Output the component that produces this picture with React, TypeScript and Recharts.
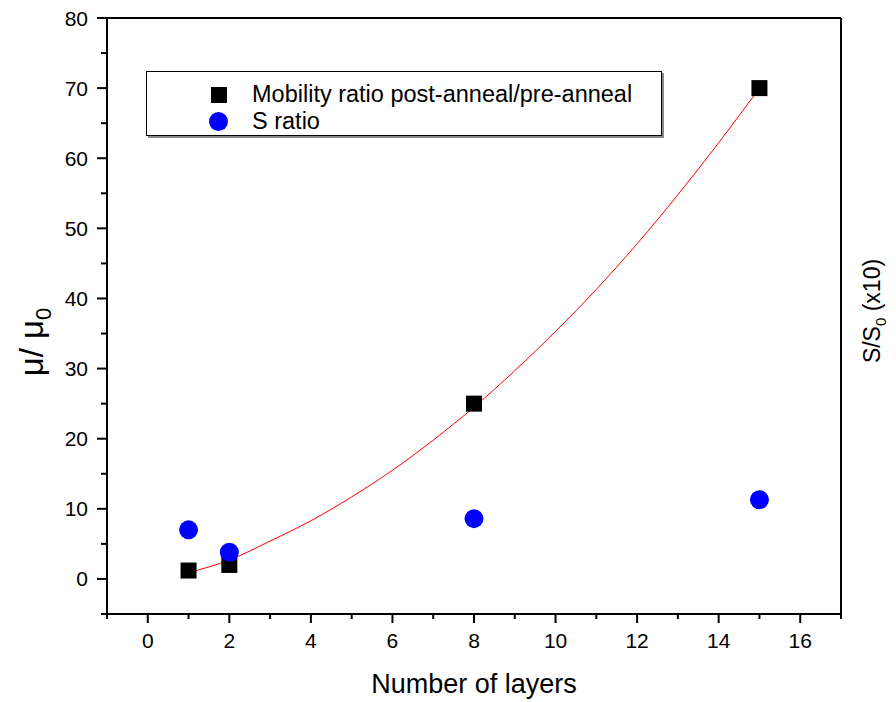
import { ComposedChart, Scatter, Line, XAxis, YAxis, Legend } from 'recharts'

const layers = [1, 2, 8, 15]
const mobilityRatio = [1.2, 2.0, 25, 70]
const sRatio = [7.0, 3.8, 8.6, 11.3]

// red fit curve
const fitX = [1, 2, 3, 4, 5, 6, 7, 8, 9, 10, 11, 12, 13, 14, 15]
const fitY = [0.9, 2.7, 5.4, 8.3, 11.7, 15.5, 19.8, 24.5, 29.7, 35.3, 41.3, 47.8, 54.8, 62.2, 70]

const xTicks = [-1, 0, 1, 2, 3, 4, 5, 6, 7, 8, 9, 10, 11, 12, 13, 14, 15, 16, 17]
const yTicks = [-5, 0, 5, 10, 15, 20, 25, 30, 35, 40, 45, 50, 55, 60, 65, 70, 75, 80]

const mobilityData = layers.map((x, i) => ({ x, y: mobilityRatio[i] }))
const sData = layers.map((x, i) => ({ x, y: sRatio[i] }))
const fitData = fitX.map((x, i) => ({ x, y: fitY[i] }))

const FONT = 'Arial, "Liberation Sans", sans-serif'

const XTick = (props: any) => {
  const { x, y, payload } = props
  const v = payload.value
  const major = v % 2 === 0
  return (
    <g>
      <line x1={x} y1={y} x2={x} y2={y + (major ? 9 : 5)} stroke="#000" strokeWidth={2} />
      {major && v >= 0 && v <= 16 && (
        <text x={x} y={y + 34} textAnchor="middle" fontSize={21} fontFamily={FONT} fill="#000">{v}</text>
      )}
    </g>
  )
}

const YTickLeft = (props: any) => {
  const { x, y, payload } = props
  const v = payload.value
  const major = v % 10 === 0
  return (
    <g>
      <line x1={x - (major ? 10 : 6)} y1={y} x2={x} y2={y} stroke="#000" strokeWidth={2} />
      {major && (
        <text x={x - 19} y={y + 7.5} textAnchor="end" fontSize={21} fontFamily={FONT} fill="#000">{v}</text>
      )}
    </g>
  )
}

const YTickRight = (props: any) => {
  const { x, y, payload } = props
  const major = payload.value % 10 === 0
  return <line x1={x - (major ? 10 : 5)} y1={y} x2={x} y2={y} stroke="#000" strokeWidth={2} />
}

const SquareDot = (props: any) => (
  <rect x={props.cx - 8} y={props.cy - 8} width={16} height={16} fill="#000" />
)
const CircleDot = (props: any) => (
  <circle cx={props.cx} cy={props.cy} r={9.5} fill="#0000ff" />
)

const LegendBox = () => (
  <div style={{
    width: 514, height: 63, border: '1px solid #000', boxShadow: '2px 2px 0 #888',
    background: '#fff', fontFamily: FONT, fontSize: 23.5, position: 'relative',
  }}>
    <div style={{ position: 'absolute', left: 64, top: 15, width: 16, height: 16, background: '#000' }} />
    <div style={{ position: 'absolute', left: 62, top: 40, width: 19, height: 19, borderRadius: '50%', background: '#0000ff' }} />
    <div style={{ position: 'absolute', left: 105, top: 9, lineHeight: '26px' }}>Mobility ratio post-anneal/pre-anneal</div>
    <div style={{ position: 'absolute', left: 105, top: 36, lineHeight: '26px' }}>S ratio</div>
  </div>
)

export default function App() {
  return (
    <div style={{ position: 'absolute', left: 0, top: 0, background: '#fff' }}>
      <ComposedChart width={896} height={702} margin={{ top: 17, right: 0, bottom: 0, left: 0 }}>
        <XAxis
          xAxisId="bottom" dataKey="x" type="number" domain={[-1, 17]} ticks={xTicks} interval={0}
          height={88} tickSize={0} tickMargin={0} tickLine={false} tick={<XTick />}
          axisLine={{ stroke: '#000', strokeWidth: 2 }}
          label={{
            content: () => (
              <text x={474} y={693} textAnchor="middle" fontSize={27} fontFamily={FONT} fill="#000">Number of layers</text>
            ),
          }}
        />
        <XAxis
          xAxisId="top" orientation="top" dataKey="x" type="number" domain={[-1, 17]} height={1}
          tick={false} tickLine={false} axisLine={{ stroke: '#000', strokeWidth: 2 }}
        />
        <YAxis
          yAxisId="left" type="number" domain={[-5, 80]} ticks={yTicks} interval={0} width={107}
          tickSize={0} tickMargin={0} tickLine={false} tick={<YTickLeft />}
          axisLine={{ stroke: '#000', strokeWidth: 2 }}
          label={{
            content: () => (
              <text transform="translate(43,342) rotate(-90)" textAnchor="middle" fontSize={33} fontFamily={FONT} fill="#000">
                μ/ μ<tspan fontSize={22} dy={8}>0</tspan>
              </text>
            ),
          }}
        />
        <YAxis
          yAxisId="right" orientation="right" type="number" domain={[-5, 80]} ticks={yTicks} interval={0} width={55}
          tickSize={0} tickMargin={0} tickLine={false} tick={<YTickRight />}
          axisLine={{ stroke: '#000', strokeWidth: 2 }}
          label={{
            content: () => (
              <text transform="translate(880,311) rotate(-90)" textAnchor="middle" fontSize={23} fontFamily={FONT} fill="#000">
                S/S<tspan fontSize={15} dy={6}>0</tspan><tspan dy={-6}> (x10)</tspan>
              </text>
            ),
          }}
        />
        <Legend
          layout="horizontal" verticalAlign="middle" align="center"
          content={<LegendBox />}
          wrapperStyle={{ position: 'absolute', left: 146, top: 71, width: 'auto', height: 'auto' }}
        />
        <Line
          xAxisId="bottom" yAxisId="left" data={fitData} dataKey="y" type="monotone"
          stroke="#ff0000" strokeWidth={1} dot={false} isAnimationActive={false} legendType="none"
        />
        <Scatter
          xAxisId="bottom" yAxisId="left" data={mobilityData} dataKey="y" shape={<SquareDot />}
          isAnimationActive={false}
        />
        <Scatter
          xAxisId="bottom" yAxisId="left" data={sData} dataKey="y" shape={<CircleDot />}
          isAnimationActive={false}
        />
      </ComposedChart>
    </div>
  )
}
